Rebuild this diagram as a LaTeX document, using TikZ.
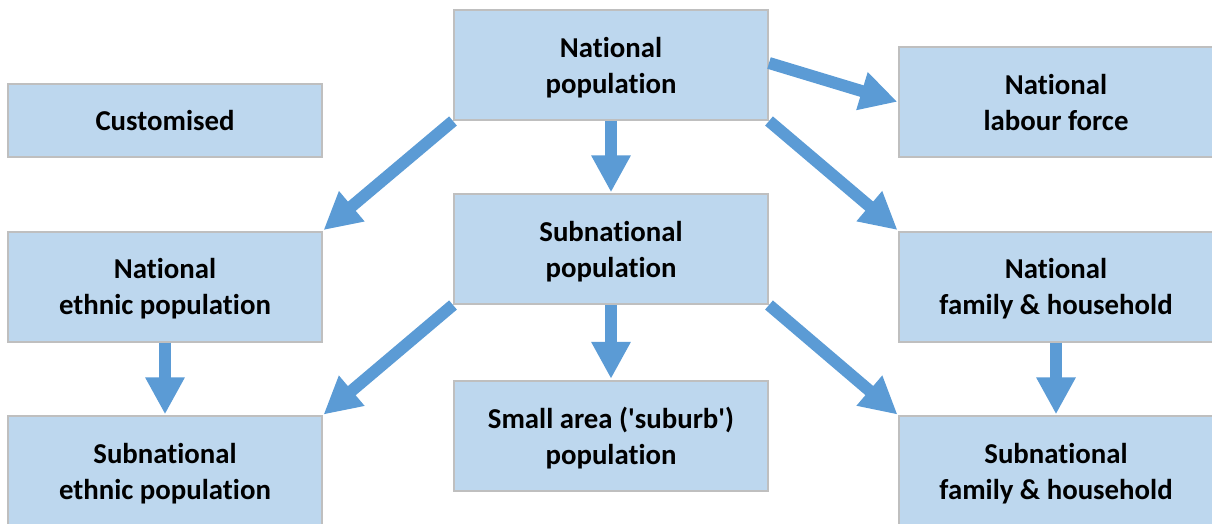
\documentclass[tikz,border=0pt]{standalone}
\usepackage{fontspec}
\setmainfont[Ligatures={NoCommon}]{Carlito}
\usepackage{tikz}
\usetikzlibrary{arrows.meta}
\definecolor{boxfill}{RGB}{189,215,238}
\definecolor{boxline}{RGB}{191,191,191}
\definecolor{arrowblue}{RGB}{91,155,213}
\tikzset{
  popbox/.style={draw=boxline, line width=1.5pt, fill=boxfill, align=center,
    minimum width=235.5pt, minimum height=82.5pt, inner sep=0.75pt, text depth=0pt,
    font=\fontsize{21.6}{27}\selectfont\bfseries},
  flow/.style={draw=arrowblue, line width=9pt,
    -{Triangle[length=27.75pt, width=27.75pt]}, shorten >=0.5pt}
}
\begin{document}
\begin{tikzpicture}[x=0.75pt,y=0.75pt,yscale=-1,xscale=1]
%set diagram left start at 0, and has height of 524
\clip (0,0) rectangle (1212,524);

%Shape: Rectangle [National population]
\node [popbox] (natpop) at (611,65) {National\\population};
%Shape: Rectangle [Customised]
\node [popbox, minimum height=54.75pt] (custom) at (165,120.5) {Customised};
%Shape: Rectangle [National labour force]
\node [popbox] (natlab) at (1056,102) {National\\labour force};
%Shape: Rectangle [Subnational population]
\node [popbox] (subpop) at (611,249) {Subnational\\population};
%Shape: Rectangle [National ethnic population]
\node [popbox] (natethn) at (165,286.5) {National\\ethnic population};
%Shape: Rectangle [National family & household]
\node [popbox] (natfam) at (1056,286.5) {National\\family \& household};
%Shape: Rectangle [Subnational ethnic population]
\node [popbox] (subethn) at (165,471) {Subnational\\ethnic population};
%Shape: Rectangle [Small area population]
\node [popbox] (smallarea) at (611,435.5) {Small area (\textquotesingle suburb\textquotesingle)\\population};
%Shape: Rectangle [Subnational family & household]
\node [popbox] (subfam) at (1056,471) {Subnational\\family \& household};

%Arrows from national population
\draw [flow] (natpop.south) -- (subpop.north);
\draw [flow] (natpop.south west) -- (natethn.north east);
\draw [flow] ([yshift=-1.5pt]natpop.east) -- (natlab.west);
\draw [flow] (natpop.south east) -- (natfam.north west);
%Arrows from subnational population
\draw [flow] (subpop.south) -- (smallarea.north);
\draw [flow] (subpop.south west) -- (subethn.north east);
\draw [flow] (subpop.south east) -- (subfam.north west);
%Arrows national to subnational
\draw [flow] (natethn.south) -- (subethn.north);
\draw [flow] (natfam.south) -- (subfam.north);

\end{tikzpicture}
\end{document}
